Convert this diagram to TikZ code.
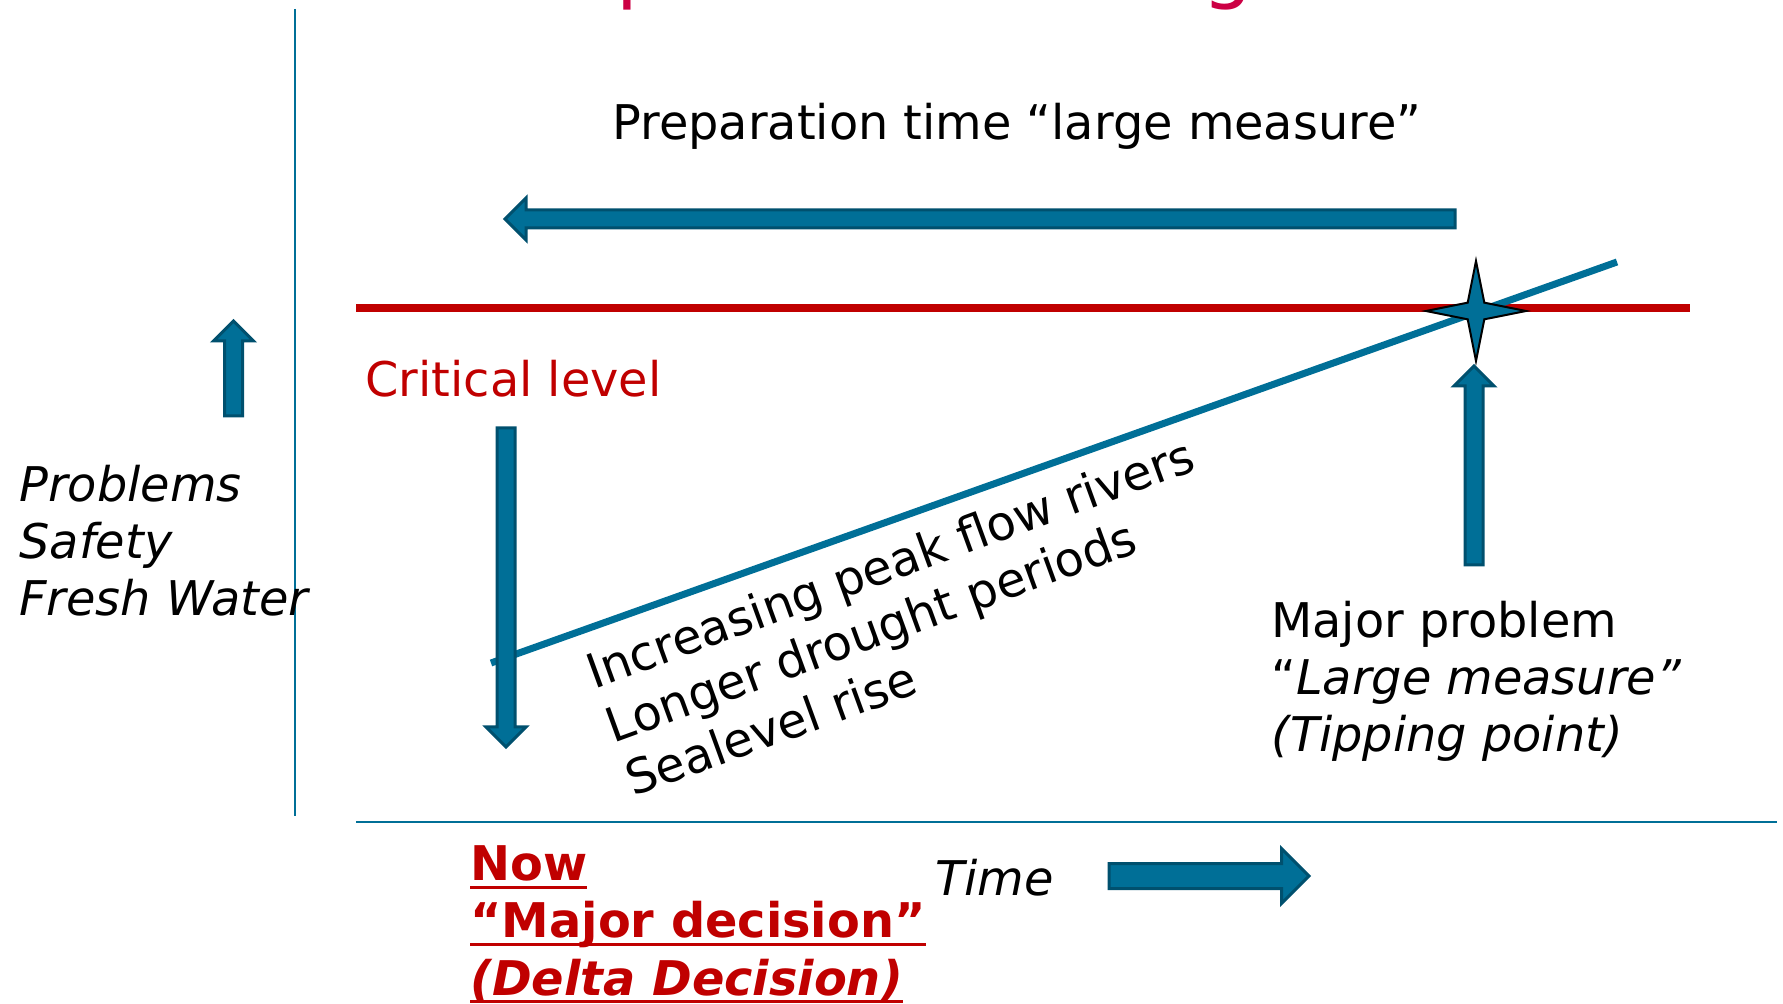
\documentclass[tikz,border=0pt]{standalone}
\usepackage{fontspec}
\setmainfont{DejaVu Sans}
\usetikzlibrary{shapes.geometric}
\definecolor{riverblue}{RGB}{0,111,151}
\definecolor{riverdark}{RGB}{0,80,110}
\definecolor{critred}{RGB}{192,0,0}
\definecolor{titlered}{RGB}{204,0,68}
\newcommand\lblfont{\fontsize{23.9}{28.6}\selectfont}
\newcommand\ulin[1]{\setbox0\hbox{#1}\rlap{\rule[-4pt]{\wd0}{1.5pt}}\box0}

\begin{document}
\begin{tikzpicture}[
        x=0.5pt, y=-0.5pt,
        txt/.style = {inner sep=0pt, font=\lblfont, align=left, anchor=base west},
        axisline/.style = {riverblue, line width=1pt},
        critline/.style = {critred, line width=4pt},
        trendline/.style = {riverblue, line width=3.5pt},
        tipstar/.style = {star, star points=4, star point ratio=4.25, minimum size=50pt,
            inner sep=0pt, fill=riverblue, draw=black, line width=1pt},
        titlefrag/.style = {inner sep=0pt, anchor=base west, text=titlered, font=\fontsize{40}{48}\selectfont},
        pics/barrow/.style n args = {3}{code={
            \filldraw[fill=riverblue, draw=riverdark, line width=1.5pt]
                (0,-#2) -- (#1-#3,-#2) -- (#1-#3,-#3) -- (#1,0) -- (#1-#3,#3) -- (#1-#3,#2) -- (0,#2) -- cycle;
        }}
    ]
    \useasboundingbox (0,0) rectangle (1783,1004);

    % title, cut off at the top
    \begin{scope}
        \clip (0,0) rectangle (1783,1004);
        \node[titlefrag] (titlep) at (616,-6) {p};
        \node[titlefrag] (titleg) at (1202,-6) {g};
    \end{scope}

    % axes
    \coordinate (ytop) at (295,9);
    \coordinate (ybot) at (295,816);
    \coordinate (xleft) at (356,822);
    \coordinate (xright) at (1777,822);
    \draw[axisline] (ytop) -- (ybot);
    \draw[axisline] (xleft) -- (xright);

    % critical level and trend
    \coordinate (critl) at (356,308);
    \coordinate (critr) at (1690,308);
    \draw[critline] (critl) -- (critr);
    \coordinate (trend0) at (491,663);
    \coordinate (trend1) at (1617,262);
    \draw[trendline] (trend0) -- (trend1);
    \node[tipstar] (tip) at (1476,311) {};

    % block arrows
    \pic[rotate=180] at (1455,219) {barrow={950}{9}{21}};
    \pic[rotate=90] at (233.5,416) {barrow={95}{9}{20}};
    \pic[rotate=-90] at (506,428) {barrow={319}{9}{20}};
    \pic[rotate=90] at (1474,565) {barrow={199}{9}{20}};
    \pic at (1109,876) {barrow={200}{12.5}{27.5}};

    % labels (base = last line)
    \node[txt] (prep) at (612,140) {Preparation time “large measure”};
    \node[txt, text=critred] (crit) at (365,397) {Critical level};
    \node[txt, font=\lblfont\itshape] (probs) at (19,616) {Problems\\Safety\\Fresh Water};
    \node[txt, rotate=20] (drivers) at (633,797) {Increasing peak flow rivers\\Longer drought periods\\Sealevel rise};
    \node[txt] (major) at (1271,752) {Major problem\\“\textit{Large measure”}\\\textit{(Tipping point)}};
    \node[txt, text=critred, font=\lblfont\bfseries] (now) at (470,995)
        {\ulin{Now}\\\ulin{“Major decision”}\\\ulin{\itshape(Delta Decision)}};
    \node[txt, font=\lblfont\itshape] (time) at (935,895) {Time};
\end{tikzpicture}
\end{document}
